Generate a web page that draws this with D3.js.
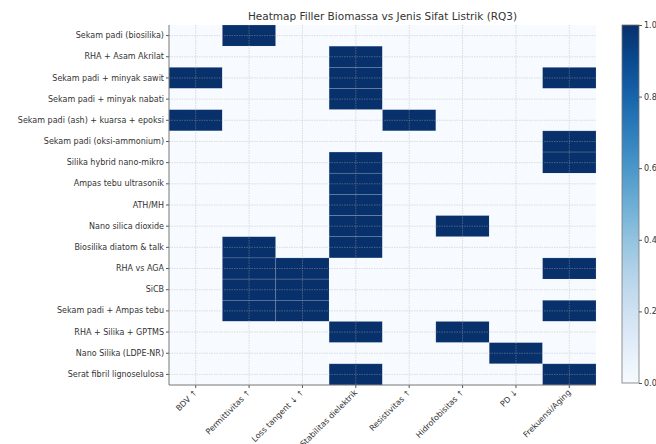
<!DOCTYPE html>
<html>
<head>
<meta charset="utf-8">
<script src="https://cdn.jsdelivr.net/npm/d3@7"></script>
<style>
	body { margin: 0; background: #fff; }
	text { font-family: "DejaVu Sans", sans-serif; }
</style>
</head>
<body>
<script>
// data
var rowNames = ["Sekam padi (biosilika)", "RHA + Asam Akrilat", "Sekam padi + minyak sawit",
	"Sekam padi + minyak nabati", "Sekam padi (ash) + kuarsa + epoksi", "Sekam padi (oksi-ammonium)",
	"Silika hybrid nano-mikro", "Ampas tebu ultrasonik", "ATH/MH", "Nano silica dioxide",
	"Biosilika diatom & talk", "RHA vs AGA", "SiCB", "Sekam padi + Ampas tebu",
	"RHA + Silika + GPTMS", "Nano Silika (LDPE-NR)", "Serat fibril lignoselulosa"];
var colNames = ["BDV ↑", "Permittivitas ↑", "Loss tangent ↓ ↑", "Stabilitas dielektrik",
	"Resistivitas ↑", "Hidrofobisitas ↑", "PD ↓", "Frekuensi/Aging"];
var matrix = [
	[0,1,0,0,0,0,0,0],
	[0,0,0,1,0,0,0,0],
	[1,0,0,1,0,0,0,1],
	[0,0,0,1,0,0,0,0],
	[1,0,0,0,1,0,0,0],
	[0,0,0,0,0,0,0,1],
	[0,0,0,1,0,0,0,1],
	[0,0,0,1,0,0,0,0],
	[0,0,0,1,0,0,0,0],
	[0,0,0,1,0,1,0,0],
	[0,1,0,1,0,0,0,0],
	[0,1,1,0,0,0,0,1],
	[0,1,1,0,0,0,0,0],
	[0,1,1,0,0,0,0,1],
	[0,0,0,1,0,1,0,0],
	[0,0,0,0,0,0,1,0],
	[0,0,0,1,0,0,0,1]
];
var cbTicks = [0, 0.2, 0.4, 0.6, 0.8, 1.0];
var title = "Heatmap Filler Biomassa vs Jenis Sifat Listrik (RQ3)";

var W = 656, H = 444;
var plot = {left: 169, right: 596, top: 25, bottom: 385};
var cb = {left: 622, width: 17};

var svg = d3.select("body").append("svg").attr("width", W).attr("height", H);

var x = d3.scaleBand().domain(d3.range(colNames.length)).range([plot.left, plot.right]);
var y = d3.scaleBand().domain(d3.range(rowNames.length)).range([plot.top, plot.bottom]);
var color = d3.scaleSequential(d3.interpolateBlues).domain([0, 1]);

// cells
var cells = [];
matrix.forEach(function(row, i){
	row.forEach(function(v, j){ cells.push({r: i, c: j, v: v}); });
});
svg.append("g").selectAll("rect").data(cells).enter().append("rect")
	.attr("x", function(d){ return x(d.c); })
	.attr("y", function(d){ return y(d.r); })
	.attr("width", x.bandwidth())
	.attr("height", y.bandwidth())
	.attr("fill", function(d){ return d.v ? "#08306b" : "#f7fbff"; })
	.attr("stroke", function(d){ return d.v ? "#c8d4e6" : "none"; })
	.attr("stroke-opacity", 0.3)
	.attr("stroke-width", 0.6);

// grid lines at tick centers
var grid = svg.append("g").attr("stroke", "#b0b0b0").attr("stroke-width", 0.5)
	.attr("stroke-dasharray", "1.5,1").attr("opacity", 0.8);
grid.selectAll(".gx").data(d3.range(colNames.length)).enter().append("line")
	.attr("x1", function(d){ return x(d) + x.bandwidth()/2; })
	.attr("x2", function(d){ return x(d) + x.bandwidth()/2; })
	.attr("y1", plot.top).attr("y2", plot.bottom);
grid.selectAll(".gy").data(d3.range(rowNames.length)).enter().append("line")
	.attr("y1", function(d){ return y(d) + y.bandwidth()/2; })
	.attr("y2", function(d){ return y(d) + y.bandwidth()/2; })
	.attr("x1", plot.left).attr("x2", plot.right);

// axes
var yAxis = d3.axisLeft(y).tickFormat(function(d){ return rowNames[d]; }).tickSize(3).tickPadding(2);
var gy = svg.append("g").attr("transform", "translate(" + plot.left + ",0)").call(yAxis);
gy.select(".domain").remove();
gy.selectAll("line").attr("stroke", "#555");
gy.selectAll("text").attr("font-size", 8).attr("fill", "#333").attr("font-family", "DejaVu Sans");

var xAxis = d3.axisBottom(x).tickFormat(function(d){ return colNames[d]; }).tickSize(3).tickPadding(2);
var gx = svg.append("g").attr("transform", "translate(0," + plot.bottom + ")").call(xAxis);
gx.select(".domain").remove();
gx.selectAll("line").attr("stroke", "#555");
gx.selectAll("text").attr("font-size", 8).attr("fill", "#333").attr("font-family", "DejaVu Sans")
	.attr("text-anchor", "end")
	.attr("dy", "0.35em")
	.attr("transform", "translate(0,6) rotate(-45)")
	.attr("y", 0).attr("x", 0);

// spines
svg.append("line").attr("x1", plot.left).attr("x2", plot.left).attr("y1", plot.top).attr("y2", plot.bottom)
	.attr("stroke", "#777").attr("stroke-width", 1);
svg.append("line").attr("x1", plot.left).attr("x2", plot.right).attr("y1", plot.bottom).attr("y2", plot.bottom)
	.attr("stroke", "#777").attr("stroke-width", 1);

// title
svg.append("text").attr("x", (plot.left + plot.right)/2).attr("y", 20)
	.attr("text-anchor", "middle").attr("font-size", 10.5).attr("fill", "#333").text(title);

// colorbar
var cy = d3.scaleLinear().domain([0, 1]).range([383, 25]);
var defs = svg.append("defs");
var grad = defs.append("linearGradient").attr("id", "cbg").attr("x1", 0).attr("y1", 1).attr("x2", 0).attr("y2", 0);
d3.range(0, 1.001, 0.1).forEach(function(t){
	grad.append("stop").attr("offset", t).attr("stop-color", color(t));
});
svg.append("rect").attr("x", cb.left).attr("y", cy(1)).attr("width", cb.width).attr("height", cy(0) - cy(1))
	.attr("fill", "url(#cbg)").attr("stroke", "#777").attr("stroke-width", 0.8);
var cAxis = d3.axisRight(cy).tickValues(cbTicks).tickFormat(d3.format(".1f")).tickSize(3).tickPadding(2);
var gc = svg.append("g").attr("transform", "translate(" + (cb.left + cb.width) + ",0)").call(cAxis);
gc.select(".domain").remove();
gc.selectAll("line").attr("stroke", "#555");
gc.selectAll("text").attr("font-size", 8).attr("fill", "#333").attr("font-family", "DejaVu Sans");
</script>
</body>
</html>
